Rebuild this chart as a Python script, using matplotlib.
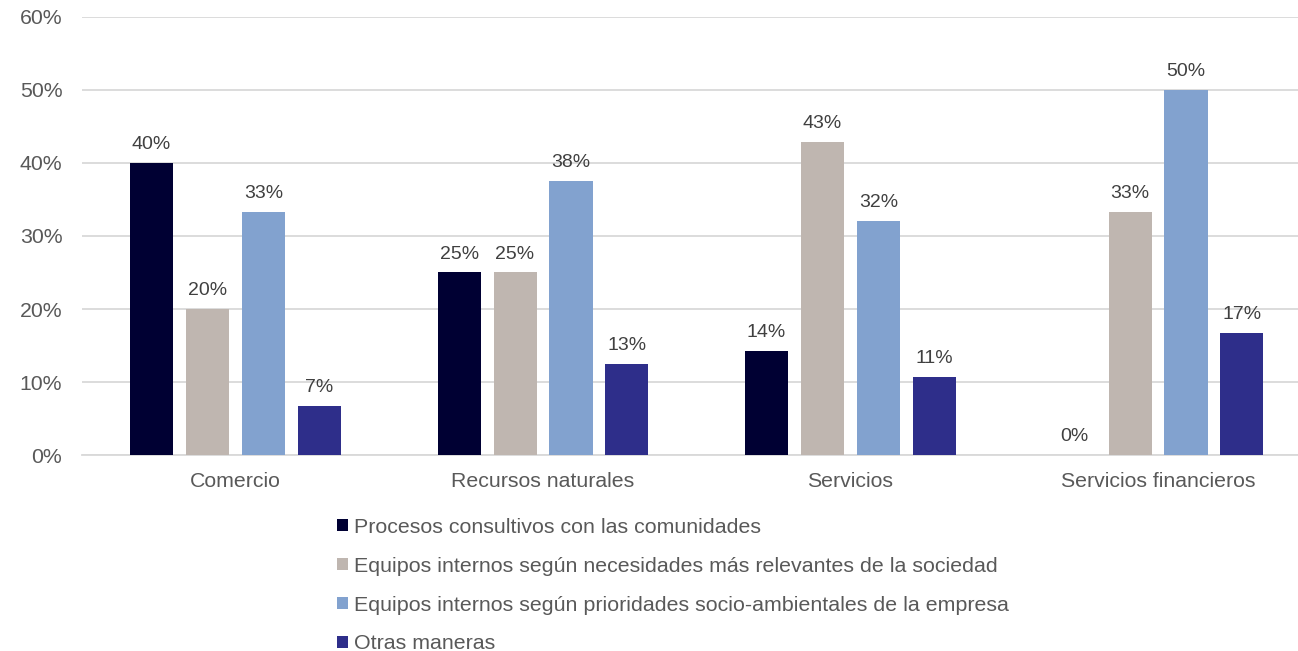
import matplotlib.pyplot as plt
import numpy as np

plt.rcParams["font.family"] = ["Liberation Sans", "DejaVu Sans"]

categories = ["Comercio", "Recursos naturales", "Servicios", "Servicios financieros"]
series_names = [
    "Procesos consultivos con las comunidades",
    "Equipos internos según necesidades más relevantes de la sociedad",
    "Equipos internos según prioridades socio-ambientales de la empresa",
    "Otras maneras",
]
procesos = [40.0, 25.0, 14.3, 0.0]
necesidades = [20.0, 25.0, 42.9, 33.3]
prioridades = [33.3, 37.5, 32.1, 50.0]
otras = [6.7, 12.5, 10.7, 16.7]
colors = ["#000033", "#BFB6B0", "#82A2CF", "#2E2E8A"]

series = [procesos, necesidades, prioridades, otras]

fig = plt.figure(figsize=(12.98, 6.51), dpi=100)
# plot area runs a little past the right edge of the figure, as in the original
ax = fig.add_axes([0.063, 0.301, 0.9476, 0.673])

x = np.arange(len(categories))
width = 0.14
step = 0.182
label_color = "#404040"
tick_color = "#595959"

for i, (vals, name, color) in enumerate(zip(series, series_names, colors)):
    pos = x + (i - 1.5) * step
    bars = ax.bar(pos, vals, width, color=color, label=name, zorder=3)
    for b, v in zip(bars, vals):
        ax.text(b.get_x() + b.get_width() / 2, v + 1.9, f"{int(v + 0.5)}%",
                ha="center", va="baseline", fontsize=14, color=label_color)

ax.set_xlim(-0.5, len(categories) - 0.5)
ax.set_ylim(0, 60)
ax.set_yticks(range(0, 61, 10))
ax.set_yticklabels([f"{t}%" for t in range(0, 61, 10)])
ax.set_xticks(x)
ax.set_xticklabels(categories)
ax.tick_params(axis="both", length=0, labelsize=15.3, colors=tick_color)
ax.tick_params(axis="x", pad=12.5)
ax.tick_params(axis="y", pad=14)
ax.grid(axis="y", color="#D9D9D9", linewidth=1.3, zorder=0)
for s in ["top", "right", "left"]:
    ax.spines[s].set_visible(False)
ax.spines["bottom"].set_color("#D9D9D9")
ax.spines["bottom"].set_linewidth(1.3)

fig.legend(loc="upper left", bbox_to_anchor=(0.2515, 0.221), frameon=False,
           fontsize=15.4, handlelength=0.52, handleheight=0.52, handletextpad=0.26,
           labelspacing=0.93, borderpad=0, labelcolor=tick_color)

fig.savefig("out.png", dpi=100)
